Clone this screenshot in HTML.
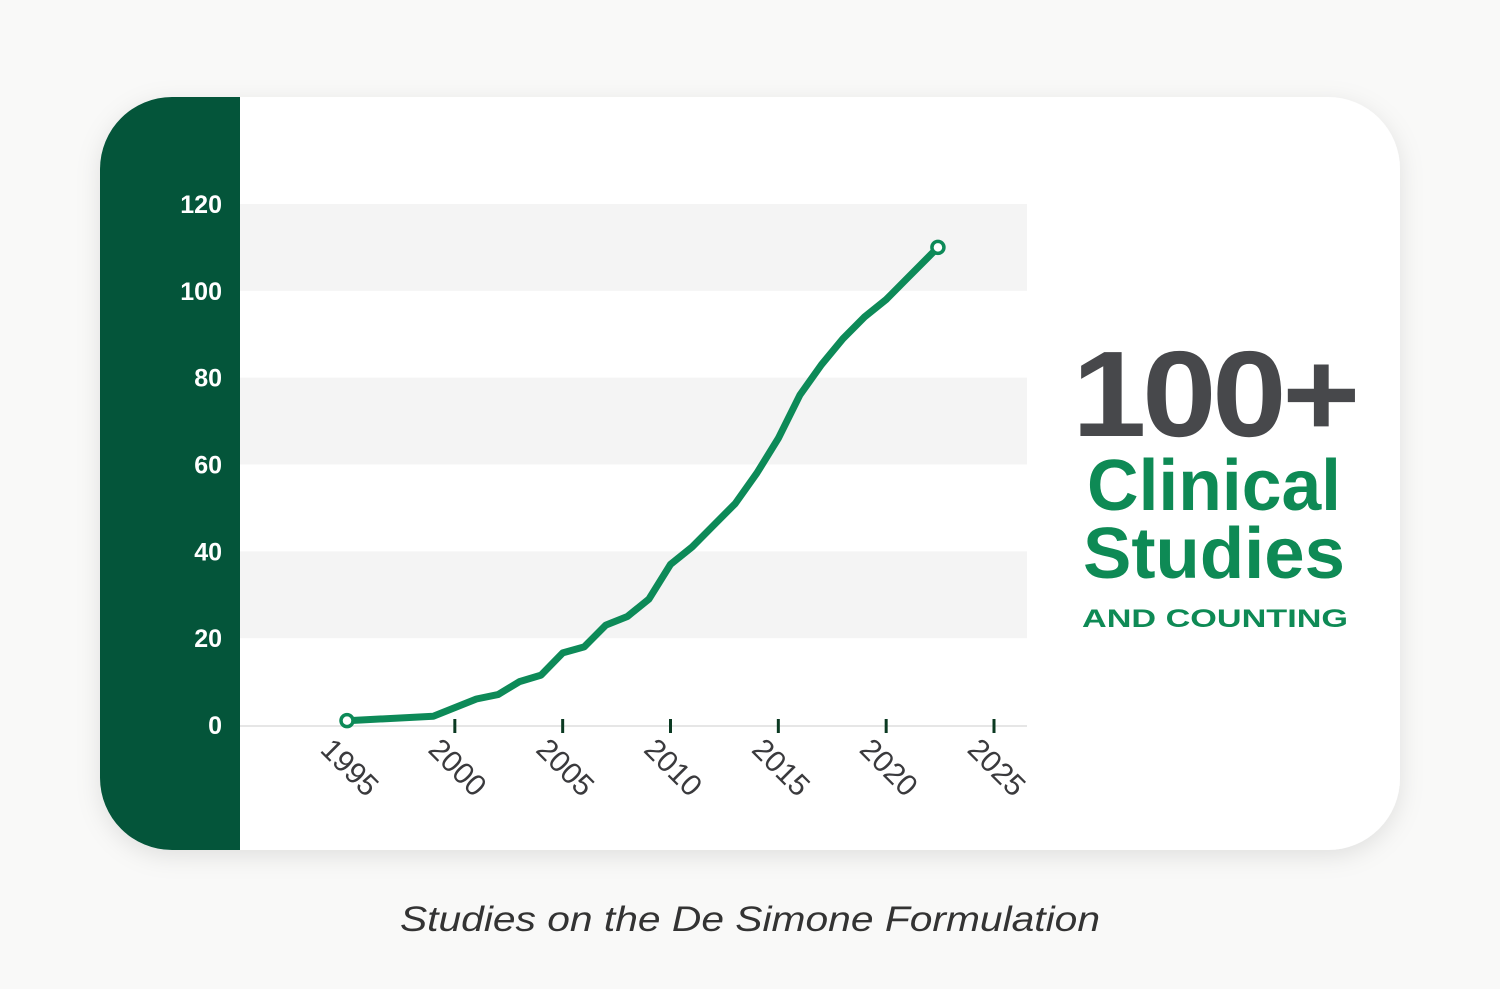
<!DOCTYPE html>
<html><head><meta charset="utf-8"><style>
html,body{margin:0;padding:0;background:#f9f9f8;}
svg{display:block;font-family:"Liberation Sans",sans-serif;}
</style></head><body>
<svg width="1500" height="989" viewBox="0 0 1500 989">
<defs>
<filter id="sh" x="-10%" y="-10%" width="120%" height="130%"><feDropShadow dx="0" dy="6" stdDeviation="12" flood-color="#000" flood-opacity="0.10"/></filter>
<clipPath id="cardclip"><rect x="100" y="97" width="1300" height="753" rx="72"/></clipPath>
</defs>
<rect x="100" y="97" width="1300" height="753" rx="72" fill="#fff" filter="url(#sh)"/>
<rect x="100" y="97" width="140" height="753" fill="#04553a" clip-path="url(#cardclip)"/>
<g id="bands"></g>
<line x1="240" y1="726" x2="1027" y2="726" stroke="#ddd" stroke-width="1.5"/>
<g id="yticks"></g>
<g id="xticks"></g>
<g id="series"></g>
<g>
<text x="1072" y="436" font-size="122" font-weight="bold" fill="#47484b" letter-spacing="-4" textLength="284" lengthAdjust="spacingAndGlyphs">100+</text>
<text x="1087" y="510" font-size="72" font-weight="bold" fill="#0e8a55" textLength="254" lengthAdjust="spacingAndGlyphs">Clinical</text>
<text x="1083" y="578" font-size="72" font-weight="bold" fill="#0e8a55" textLength="262" lengthAdjust="spacingAndGlyphs">Studies</text>
<text x="1082" y="627" font-size="25" font-weight="bold" fill="#0e8a55" textLength="266" lengthAdjust="spacingAndGlyphs">AND COUNTING</text>
</g>
<text x="750" y="931" text-anchor="middle" font-size="35" font-style="italic" fill="#333" textLength="700" lengthAdjust="spacingAndGlyphs">Studies on the De Simone Formulation</text>
</svg>
<script>
const yTicks = [0, 20, 40, 60, 80, 100, 120];
const xTicks = [1995, 2000, 2005, 2010, 2015, 2020, 2025];
const years = [1995, 1999, 2001, 2002, 2003, 2004, 2005, 2006, 2007, 2008, 2009, 2010, 2011, 2012, 2013, 2014, 2015, 2016, 2017, 2018, 2019, 2020, 2021, 2022, 2022.4];
const studies = [1, 2, 6, 7, 10, 11.5, 16.6, 18, 23, 25, 29, 37, 41, 46, 51, 58, 66, 76, 83, 89, 94, 98, 103, 108, 110];
const NS = "http://www.w3.org/2000/svg";
const xs = v => 347 + (v - 1995) * (994 - 347) / 30;
const ys = v => 725 - v * (725 - 204) / 120;
function mk(tag, attrs, parent){const e=document.createElementNS(NS,tag);for(const k in attrs)e.setAttribute(k,attrs[k]);parent.appendChild(e);return e;}
const bands=document.getElementById('bands');
for(let i=1;i<yTicks.length-1;i+=2){
  const b=mk('rect',{x:240,y:ys(yTicks[i+1]),width:787,height:ys(yTicks[i])-ys(yTicks[i+1]),fill:'#f4f4f4'},bands);
  
  
}
const yt=document.getElementById('yticks');
yTicks.forEach(v=>{
  const t=mk('text',{x:222,y:ys(v)+9,'text-anchor':'end','font-size':25,'font-weight':'bold',fill:'#fff'},yt);
  t.textContent=v;
  
  
});
const xt=document.getElementById('xticks');
xTicks.forEach((v,i)=>{
  if(i>0){
    const l=mk('line',{x1:xs(v),x2:xs(v),y1:719,y2:733,stroke:'#0b3a22','stroke-width':3},xt);
    
    
  }
  const t=mk('text',{x:0,y:0,'font-size':30,fill:'#3a3a3d',transform:`translate(${xs(v)-28},${751}) rotate(45)`},xt);
  t.textContent=v;
  
  
});
const sg=document.getElementById('series');
const pts=years.map((y,i)=>xs(y).toFixed(1)+','+ys(studies[i]).toFixed(1)).join(' ');
const pl=mk('polyline',{points:pts,fill:'none',stroke:'#0d8a58','stroke-width':7,'stroke-linejoin':'round','stroke-linecap':'round'},sg);


[0,years.length-1].forEach(i=>{
  const c=mk('circle',{cx:xs(years[i]),cy:ys(studies[i]),r:6,fill:'#fff',stroke:'#0d8a58','stroke-width':3.5},sg);
  
  
});
</script>
</body></html>
